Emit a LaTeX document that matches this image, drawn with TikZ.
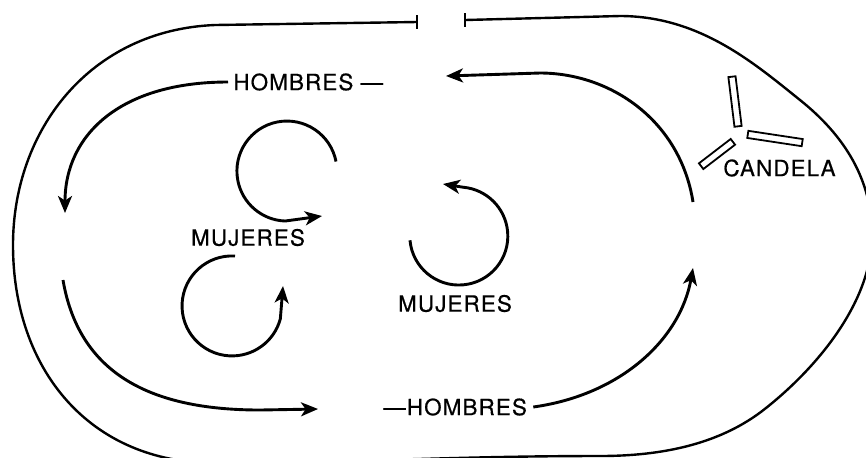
\documentclass[tikz,border=0pt]{standalone}
\usepackage{fontspec}
\setmainfont{TeX Gyre Heros}[LetterSpace=5,FakeBold=0.6]
\usetikzlibrary{arrows.meta}
\begin{document}
\begin{tikzpicture}[x=0.5pt,y=-0.5pt,
  track/.style={line width=1.2pt},
  lbl/.style={font=\fontsize{11.2}{13}\selectfont, inner sep=0pt},
  flow/.style={line width=1.45pt, -{Stealth[length=8.5pt,width=7pt,inset=2.3pt]}},
  stick/.style={draw, line width=0.9pt, inner sep=0pt, minimum height=3.6pt}]
\useasboundingbox (0,0) rectangle (866,457);

% outer track
\coordinate (gl) at (417,22);
\coordinate (gr) at (465,20);
\begin{scope}
\clip (0,0) rectangle (866,457);
\draw[track] (gl) -- (215,25) .. controls (90,30) and (13,130) .. (13,245)
  .. controls (13,370) and (90,463) .. (215,463)
  .. controls (350,463) and (450,456) .. (600,456)
  .. controls (660,456) and (720,445) .. (766,408)
  .. controls (820,365) and (872,300) .. (872,235)
  .. controls (872,180) and (845,136) .. (800,100)
  .. controls (755,64) and (700,16) .. (620,16) -- (gr);
\end{scope}
\draw[track] (gl) ++(0,-7) -- ++(0,14);
\draw[track] (gr) ++(0,-7) -- ++(0,14);

% labels
\node[lbl, anchor=west] (h1) at (233,82) {HOMBRES —};
\node[lbl, anchor=west] (h2) at (383,407) {—HOMBRES};
\node[lbl] (m1) at (248,237.5) {MUJERES};
\node[lbl] (m2) at (455,303.5) {MUJERES};
\node[lbl, anchor=west] (cd) at (723,168) {CANDELA};

% candle sticks
\node[stick, minimum width=25pt, rotate=-83] (k1) at (735,101.5) {};
\node[stick, minimum width=27.5pt, rotate=-8.6] (k2) at (775,138.5) {};
\node[stick, minimum width=20pt, rotate=37.5] (k3) at (717,154) {};

% big flow arrows
\coordinate (a1e) at (65,213);
\draw[flow] ([xshift=-2.5pt]h1.west) .. controls (120,82) and (65,135) .. (a1e);
\coordinate (a2s) at (693,202);
\coordinate (a2e) at (446,76);
\draw[flow] (a2s) .. controls (680,120) and (610,73) .. (540,73) -- (a2e);
\coordinate (a3s) at (63,280);
\coordinate (a3e) at (318,409);
\draw[flow] (a3s) .. controls (80,380) and (160,410) .. (260,410) -- (a3e);
\coordinate (a4e) at (693,268);
\draw[flow] ([xshift=3pt]h2.east) .. controls (620,395) and (680,340) .. (a4e);

% circular arrows
\coordinate (c1s) at (336,161.5);
\coordinate (c1e) at (322,216);
\draw[flow] (c1s) arc[start angle=-11, end angle=-268, radius=50] -- (c1e);
\coordinate (c2s) at (235,256);
\coordinate (c2e) at (283,286);
\draw[flow] (c2s) arc[start angle=-86.6, end angle=-345, radius=50] -- (c2e);
\coordinate (c3s) at (410,240.3);
\coordinate (c3e) at (443,184);
\draw[flow] (c3s) arc[start angle=175, end angle=-85, radius=49] -- (c3e);
\end{tikzpicture}
\end{document}
